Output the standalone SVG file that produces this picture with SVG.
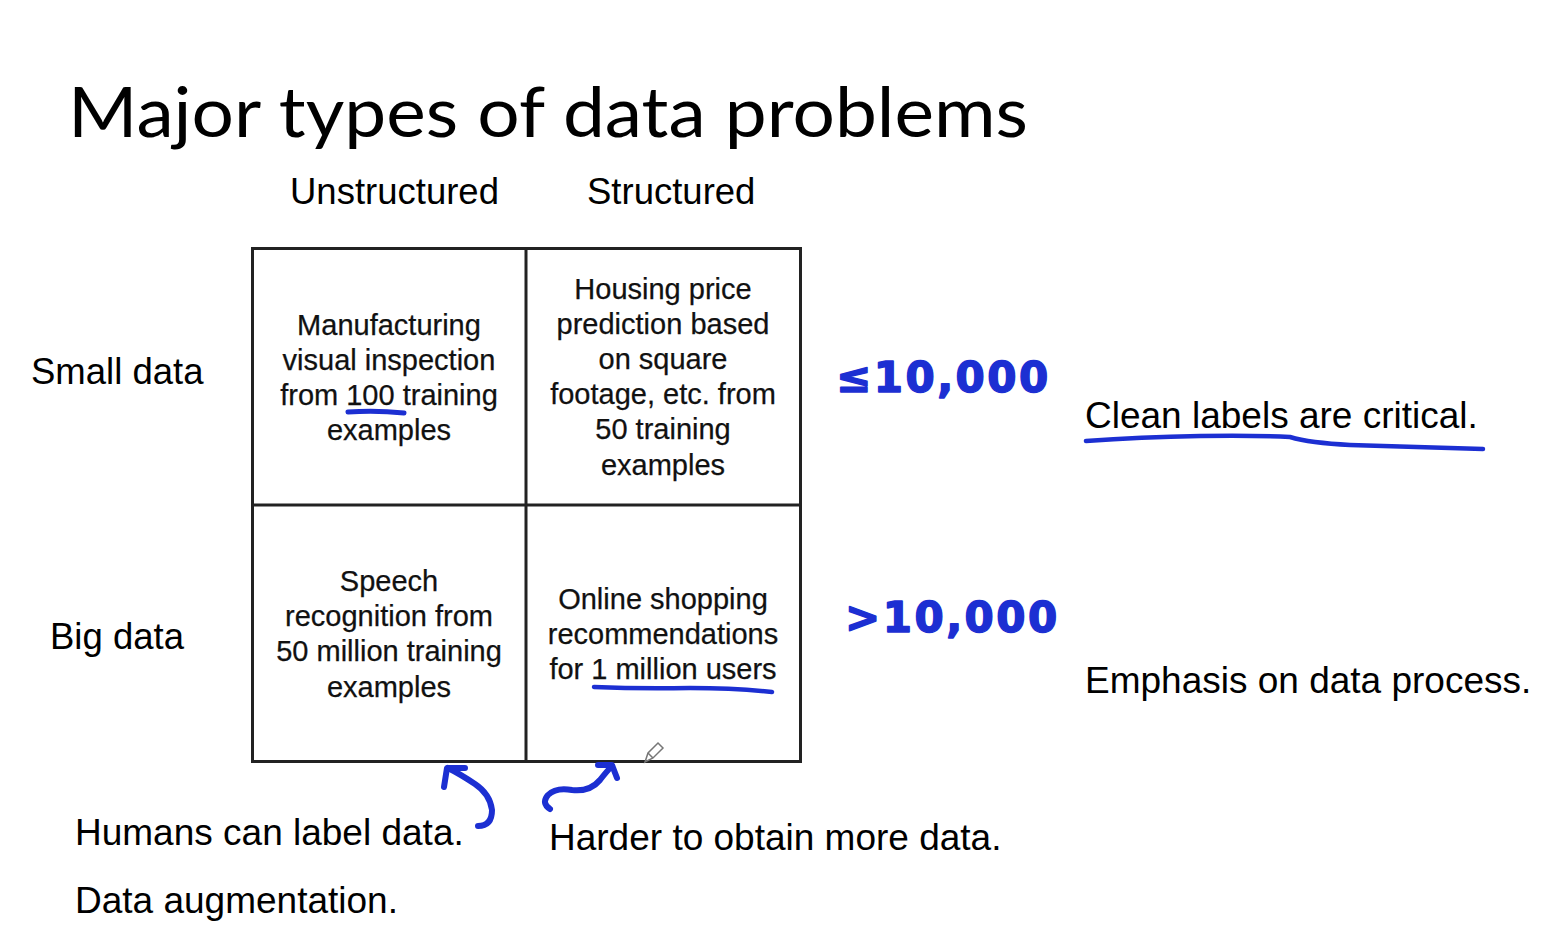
<svg xmlns="http://www.w3.org/2000/svg" width="1566" height="934" viewBox="0 0 1566 934">
  <style>
    .title { font-family: Lato, "Liberation Sans", sans-serif; font-size: 70px; fill: #000; }
    .head { font-family: "Liberation Sans", Arial, sans-serif; font-size: 36.5px; fill: #000; }
    .cell { font-family: "Liberation Sans", Arial, sans-serif; font-size: 29px; fill: #111; text-anchor: middle; stroke: #111; stroke-width: 0.25; }
    .note { font-family: "Liberation Sans", Arial, sans-serif; font-size: 37px; fill: #000; }
    .ink { font-family: "DejaVu Sans", sans-serif; font-weight: bold; font-size: 42px; fill: #1c2fd2; stroke: #1c2fd2; stroke-width: 1.5; stroke-linejoin: round; }
    .grid { fill: none; stroke: #222; stroke-width: 3; }
    .pen { fill: none; stroke: #1c2fd2; stroke-linecap: round; stroke-linejoin: round; }
  </style>
  <rect width="1566" height="934" fill="#fff"/>

  <text class="title" x="68" y="137" textLength="960" lengthAdjust="spacingAndGlyphs">Major types of data problems</text>

  <g id="col-headers">
    <text class="head" x="290" y="204">Unstructured</text>
    <text class="head" x="587" y="204">Structured</text>
  </g>
  <g id="row-headers">
    <text class="head" x="31" y="384">Small data</text>
    <text class="head" x="50" y="649">Big data</text>
  </g>

  <!-- 2x2 grid -->
  <g id="grid">
    <rect class="grid" x="252.5" y="248.5" width="548" height="513"/>
    <line class="grid" x1="526" y1="248" x2="526" y2="762"/>
    <line class="grid" x1="252" y1="505" x2="800" y2="505"/>
  </g>

  <g id="cell-small-unstructured">
    <text class="cell" x="389" y="335">Manufacturing</text>
    <text class="cell" x="389" y="370">visual inspection</text>
    <text class="cell" x="389" y="405">from 100 training</text>
    <text class="cell" x="389" y="440">examples</text>
  </g>
  <g id="cell-small-structured">
    <text class="cell" x="663" y="299">Housing price</text>
    <text class="cell" x="663" y="334">prediction based</text>
    <text class="cell" x="663" y="369">on square</text>
    <text class="cell" x="663" y="404">footage, etc. from</text>
    <text class="cell" x="663" y="439">50 training</text>
    <text class="cell" x="663" y="475">examples</text>
  </g>
  <g id="cell-big-unstructured">
    <text class="cell" x="389" y="591">Speech</text>
    <text class="cell" x="389" y="626">recognition from</text>
    <text class="cell" x="389" y="661">50 million training</text>
    <text class="cell" x="389" y="697">examples</text>
  </g>
  <g id="cell-big-structured">
    <text class="cell" x="663" y="609">Online shopping</text>
    <text class="cell" x="663" y="644">recommendations</text>
    <text class="cell" x="663" y="679">for 1 million users</text>
  </g>

  <g id="side-notes">
    <text class="note" x="1085" y="428">Clean labels are critical.</text>
    <text class="note" x="1085" y="693">Emphasis on data process.</text>
    <text class="note" x="75" y="845">Humans can label data.</text>
    <text class="note" x="75" y="913">Data augmentation.</text>
    <text class="note" x="549" y="850">Harder to obtain more data.</text>
  </g>

  <!-- handwritten thresholds -->
  <g id="thresholds">
    <text class="ink" x="836" y="392" letter-spacing="2.5">≤10,000</text>
    <text class="ink" x="845" y="632" letter-spacing="2.5">&gt;10,000</text>
  </g>

  <!-- handwritten underlines and arrows -->
  <g id="connectors">
    <path class="pen" stroke-width="5" d="M348 412 Q376 410 404 413"/>
    <path class="pen" stroke-width="4.5" d="M594 687 Q640 689 690 688 Q735 688 772 692"/>
    <path class="pen" stroke-width="4.5" d="M1086 441 Q1140 437 1200 436 Q1250 435 1290 437 Q1310 443 1350 445 Q1420 447 1483 449"/>
    <path class="pen" stroke-width="6" d="M478 826 Q492 826 492 810 Q490 794 475 784 Q460 774 448 768"/>
    <path class="pen" stroke-width="6" d="M444 787 L447 768 L465 768"/>
    <path class="pen" stroke-width="6" d="M550 809 Q541 803 548 795 Q556 787 572 790 Q590 792 600 780 Q607 771 612 766"/>
    <path class="pen" stroke-width="6" d="M598 765 L612 765 L617 778"/>
  </g>

  <!-- pen cursor -->
  <g id="pen-cursor" fill="none" stroke="#777" stroke-width="1.5">
    <path d="M645 762 L648 753 L658 743 L663 748 L653 758 Z"/>
    <line x1="648" y1="753" x2="653" y2="758"/>
  </g>
</svg>
